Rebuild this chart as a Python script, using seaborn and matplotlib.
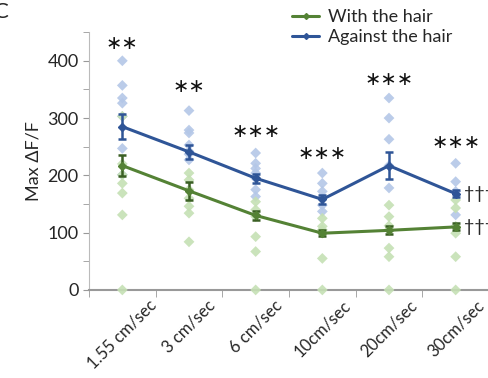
import numpy as np
import pandas as pd
import matplotlib.pyplot as plt
import seaborn as sns
from matplotlib.lines import Line2D

# Data
speeds = ['1.55 cm/sec', '3 cm/sec', '6 cm/sec', '10cm/sec', '20cm/sec', '30cm/sec']

with_means = [217, 173, 130, 99, 104, 110]
with_sem = [18, 16, 8, 5, 7, 6]
against_means = [285, 241, 195, 158, 217, 168]
against_sem = [22, 12, 8, 8, 24, 6]

with_points = [
    [303, 220, 201, 186, 169, 131, 0],
    [204, 192, 175, 160, 146, 134, 84],
    [154, 140, 128, 93, 67, 0],
    [125, 111, 105, 99, 55, 0],
    [148, 128, 112, 105, 73, 58, 0],
    [157, 143, 111, 99, 58, 0],
]
against_points = [
    [400, 357, 335, 326, 303, 247, 201],
    [313, 279, 274, 253, 242, 237, 227],
    [239, 221, 212, 204, 195, 175, 163],
    [204, 186, 172, 160, 148, 137],
    [335, 300, 263, 217, 178],
    [221, 189, 172, 131],
]

stars = ['**', '**', '***', '***', '***', '***']
star_y = [431, 355, 276, 239, 367, 257]

sns.set_style('ticks')
plt.rcParams['font.family'] = ['Lato', 'DejaVu Sans']

fig, ax = plt.subplots(figsize=(4.89, 3.78), dpi=100)
fig.subplots_adjust(left=0.182, right=1.0, bottom=0.233, top=0.915)

# long format for the individual points
rows = []
for sp, pts in zip(speeds, against_points):
    for v in pts:
        rows.append((sp, 'Against the hair', v))
for sp, pts in zip(speeds, with_points):
    for v in pts:
        rows.append((sp, 'With the hair', v))
df = pd.DataFrame(rows, columns=['speed', 'group', 'value'])

light = {'Against the hair': '#b4c7e7', 'With the hair': '#c5e0b4'}
sns.stripplot(data=df, x='speed', y='value', hue='group', order=speeds,
              hue_order=['Against the hair', 'With the hair'], palette=light,
              jitter=False, marker='D', size=5.5, linewidth=0, alpha=0.9,
              legend=False, ax=ax)
for c in ax.collections:
    c.set_clip_on(False)

# means with error bars
xs = np.arange(len(speeds))
ax.errorbar(xs, with_means, yerr=with_sem, color='#548235', lw=2.2,
            marker='D', ms=4, ecolor='#3a5f24', elinewidth=1.8, capsize=3,
            capthick=1.8, zorder=5)
ax.errorbar(xs, against_means, yerr=against_sem, color='#2f5597', lw=2.2,
            marker='D', ms=4, ecolor='#2f5597', elinewidth=1.8, capsize=3,
            capthick=1.8, zorder=6)

for x, s, y in zip(xs, stars, star_y):
    ax.text(x, y, s.replace('*', '\u2217'), ha='center', va='center',
            fontsize=14, color='#111111', family=['DejaVu Sans'])

for m in [against_means[-1], with_means[-1]]:
    ax.annotate('\u2020\u2020\u2020', xy=(5, m), xytext=(6, 0),
                textcoords='offset points', ha='left', va='center',
                fontsize=13, annotation_clip=False, clip_on=False)

ax.set_xlim(-0.5, 5.5)
ax.set_ylim(0, 450)
ax.set_yticks([0, 100, 200, 300, 400])
ax.set_yticks(np.arange(0, 451, 50), minor=True)
ax.set_xticks(xs)
ax.set_xticks(np.arange(-0.5, 6, 1), minor=True)
ax.set_xticklabels(speeds, rotation=45, ha='center', fontsize=12)
ax.tick_params(axis='y', which='both', length=4, color='#999999', labelsize=13)
ax.tick_params(axis='x', which='major', length=0, pad=5)
ax.tick_params(axis='x', which='minor', length=5, color='#999999')
ax.set_xlabel('')
ax.set_ylabel('Max \u0394F/F', fontsize=13)

sns.despine(ax=ax)
ax.spines['left'].set_color('#bbbbbb')
ax.spines['bottom'].set_color('#999999')
ax.spines['bottom'].set_linewidth(1.5)

handles = [Line2D([], [], color='#548235', lw=2.2, marker='D', ms=3),
           Line2D([], [], color='#2f5597', lw=2.2, marker='D', ms=3)]
fig.legend(handles, ['With the hair', 'Against the hair'],
           loc='upper left', bbox_to_anchor=(0.575, 1.005), frameon=False,
           fontsize=13, handlelength=1.5, handletextpad=0.5,
           labelspacing=0.25, borderaxespad=0.2)

fig.text(-0.012, 0.995, 'C', fontsize=16, ha='left', va='top')

fig.savefig('out.png', dpi=100)
